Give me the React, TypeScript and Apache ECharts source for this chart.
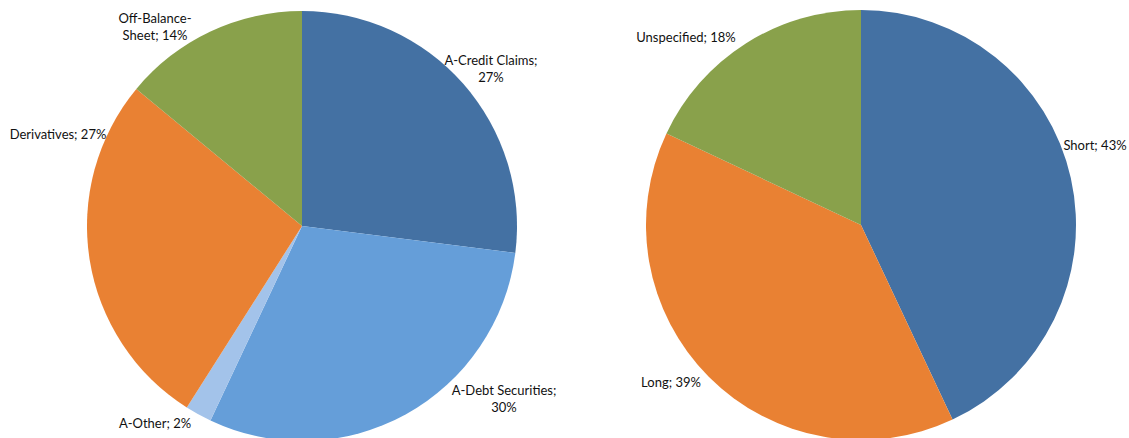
import React, { useEffect, useRef } from "react";
import * as echarts from "echarts";

// Left pie: asset breakdown
const assetNames = ["A-Credit Claims", "A-Debt Securities", "A-Other", "Derivatives", "Off-Balance-Sheet"];
const assetValues = [27, 30, 2, 27, 14];
const assetColors = ["#4471A3", "#659ED9", "#A3C3EA", "#E98133", "#89A14B"];

// Right pie: maturity breakdown
const termNames = ["Short", "Long", "Unspecified"];
const termValues = [43, 39, 18];
const termColors = ["#4471A3", "#E98133", "#89A14B"];

// Label text wrapping (as in the reference)
const labelWrap: Record<string, string> = {
  "A-Credit Claims": "A-Credit Claims;\n",
  "A-Debt Securities": "A-Debt Securities;\n",
  "Off-Balance-Sheet": "Off-Balance-\nSheet; ",
};

// Label anchor offsets from each pie's centre (styling/positioning only)
const assetLabelOffsets = [
  [189, -158],
  [202, 172],
  [-147, 197],
  [-244, -92],
  [-147, -200],
];
const termLabelOffsets = [
  [234, -80],
  [-190, 157],
  [-175, -188],
];

const leftCenter = [302, 226];
const rightCenter = [861, 225];
const pieRadius = 215;

function makeSeries(
  names: string[],
  values: number[],
  colors: string[],
  center: number[],
  offsets: number[][]
) {
  return {
    type: "pie",
    center,
    radius: pieRadius,
    startAngle: 90,
    clockwise: true,
    silent: true,
    avoidLabelOverlap: false,
    data: names.map((n, i) => ({ name: n, value: values[i], itemStyle: { color: colors[i] } })),
    itemStyle: { borderWidth: 0 },
    label: {
      show: true,
      position: "outside",
      color: "#111",
      fontFamily: "Lato, 'Open Sans', sans-serif",
      fontSize: 13,
      lineHeight: 17,
      align: "center",
      formatter: (p: any) => `${labelWrap[p.name] ?? p.name + "; "}${p.value}%`,
    },
    labelLine: { show: false },
    labelLayout: (params: any) => {
      const o = offsets[params.dataIndex];
      return {
        x: center[0] + o[0],
        y: center[1] + o[1],
        align: "center",
        verticalAlign: "middle",
      };
    },
  };
}

export default function App() {
  const ref = useRef<HTMLDivElement>(null);
  useEffect(() => {
    if (!ref.current) return;
    const chart = echarts.init(ref.current, undefined, { renderer: "svg" });
    chart.setOption({
      animation: false,
      backgroundColor: "#ffffff",
      series: [
        makeSeries(assetNames, assetValues, assetColors, leftCenter, assetLabelOffsets),
        makeSeries(termNames, termValues, termColors, rightCenter, termLabelOffsets),
      ],
    });
    return () => chart.dispose();
  }, []);
  return (
    <div
      ref={ref}
      style={{ position: "fixed", left: 0, top: 0, width: 1129, height: 438, background: "#fff" }}
    />
  );
}
